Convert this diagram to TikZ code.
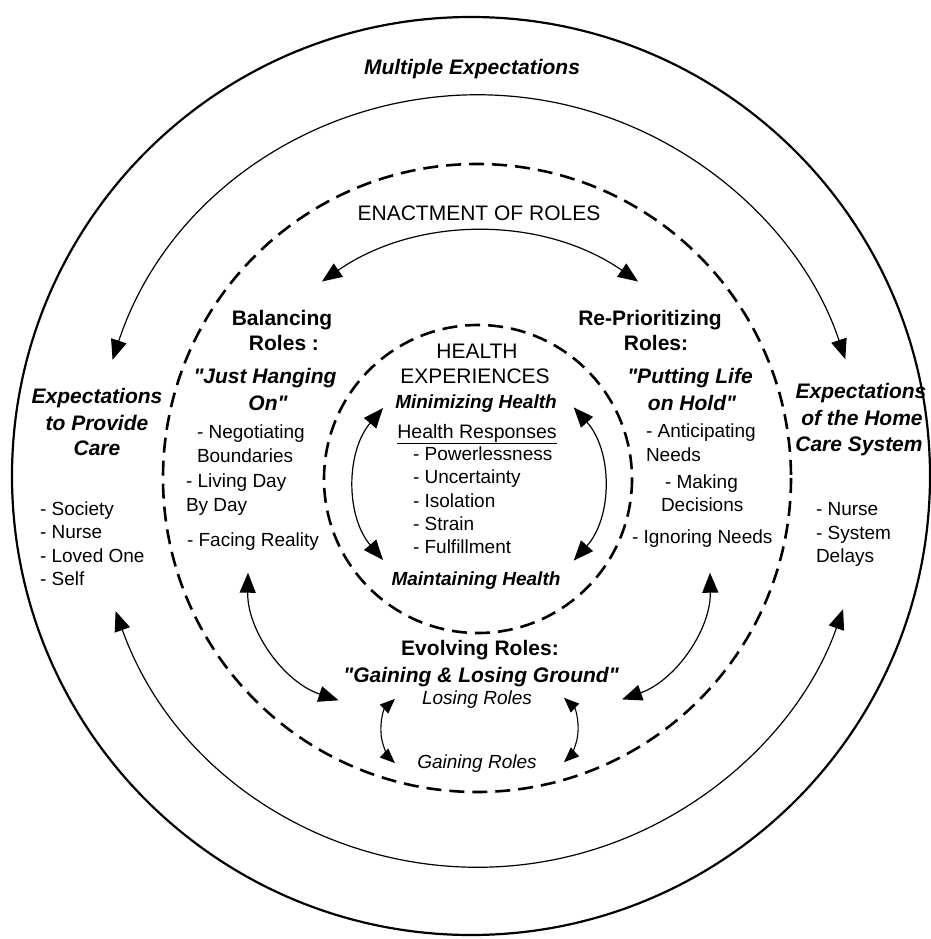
\documentclass[tikz,border=0pt]{standalone}
\usepackage{fontspec}
\setmainfont{Liberation Sans}[Ligatures=ResetAll]
\usetikzlibrary{arrows.meta}
\newcommand{\sq}{\XeTeXglyph\XeTeXglyphindex "quotedbl"\relax}
\begin{document}
\begin{tikzpicture}[x=1pt,y=-1pt,
  every node/.style={inner sep=0pt, outer sep=0pt},
  hb/.style={font=\fontsize{21}{25}\selectfont\bfseries, anchor=base},
  hbi/.style={font=\fontsize{21}{25}\selectfont\bfseries\itshape, anchor=base},
  hr/.style={font=\fontsize{21}{25}\selectfont, anchor=base},
  li/.style={font=\fontsize{19}{23}\selectfont, anchor=base west},
  sbi/.style={font=\fontsize{19}{23}\selectfont\bfseries\itshape, anchor=base},
  si/.style={font=\fontsize{19}{23}\selectfont\itshape, anchor=base},
  sr/.style={font=\fontsize{19.5}{23}\selectfont, anchor=base},
  outerring/.style={line width=2.2pt},
  dring/.style={line width=2.6pt, dash pattern=on 15pt off 8pt},
  bigarr/.style={line width=1.2pt, {Triangle[length=20pt,width=16pt]}-{Triangle[length=20pt,width=16pt]}},
  smallarr/.style={line width=1.1pt, {Triangle[length=15pt,width=12pt]}-{Triangle[length=15pt,width=12pt]}}
]
\useasboundingbox (0,0) rectangle (930,939);

% rings
\coordinate (cO) at (471,476);
\draw[outerring] (cO) circle[radius=459];
\coordinate (cE) at (477,478);
\draw[dring] (cE) circle[radius=314];
\coordinate (cH) at (478,479);
\draw[dring] (cH) circle[radius=154];

% large thin arcs between the expectations
\coordinate (cT) at (479,481);
\path (cT) ++(-161.7:386) coordinate (tTL) (cT) ++(-18.4:386) coordinate (tTR);
\path (cT) ++(160.3:386) coordinate (tBL) (cT) ++(19.4:386) coordinate (tBR);
\draw[bigarr] (tTL) arc[start angle=-161.7, end angle=-18.4, radius=386];
\draw[bigarr] (tBL) arc[start angle=160.3, end angle=19.4, radius=386];

% enactment arc
\coordinate (cA) at (480,509);
\path (cA) ++(-124.8:277) coordinate (eL) (cA) ++(-55.2:277) coordinate (eR);
\draw[bigarr] (eL) arc[start angle=-124.8, end angle=-55.2, radius=277];

% health arcs
\coordinate (cHL) at (472,484);
\coordinate (cHR) at (488,484);
\path (cHL) ++(-139.5:117) coordinate (hL1) (cHR) ++(-41.8:115) coordinate (hR1);
\draw[bigarr] (hL1) arc[start angle=-139.5, end angle=-220.5, radius=117];
\draw[bigarr] (hR1) arc[start angle=-41.8, end angle=41.8, radius=115];

% balancing / re-prioritizing to evolving
\coordinate (cBL) at (380,575);
\coordinate (cBR) at (578,575);
\path (cBL) ++(181:132) coordinate (bL1) (cBR) ++(-1:132) coordinate (bR1);
\draw[bigarr] (bL1) arc[start angle=181, end angle=108.3, radius=132];
\draw[bigarr] (bR1) arc[start angle=-1, end angle=70.5, radius=132];

% losing / gaining
\coordinate (cSL) at (425,731);
\coordinate (cSR) at (534,730);
\path (cSL) ++(-133:44) coordinate (sL1) (cSR) ++(-47:44) coordinate (sR1);
\draw[smallarr] (sL1) arc[start angle=-133, end angle=-227, radius=44];
\draw[smallarr] (sR1) arc[start angle=-47, end angle=47, radius=44];

% texts
\node[hbi] (title) at (472,75) {Multiple Expectations};
\node[hr] (enact) at (479,220) {ENACTMENT OF ROLES};

\node[hbi] (epa) at (97,403) {Expectations};
\node[hbi] (epb) at (97,430) {to Provide};
\node[hbi] (epc) at (97,455) {Care};
\node[li] (epd) at (40,515) {- Society};
\node[li] (epe) at (40,538) {- Nurse};
\node[li] (epf) at (40,562) {- Loved One};
\node[li] (epg) at (40,585) {- Self};

\node[hb] (bra) at (282,325) {Balancing};
\node[hb] (brb) at (284,350) {Roles :};
\node[hbi] (brc) at (265,383) {\sq Just Hanging};
\node[hbi] (brd) at (268,410) {On\sq};
\node[li] (bre) at (197,438) {- Negotiating};
\node[li] (brf) at (197,462) {Boundaries};
\node[li] (brg) at (186,487) {- Living Day};
\node[li] (brh) at (186,511) {By Day};
\node[li] (bri) at (187,546) {- Facing Reality};

\node[hb] (rpa) at (650,325) {Re-Prioritizing};
\node[hb] (rpb) at (656,350) {Roles:};
\node[hbi] (rpc) at (690,383) {\sq Putting Life};
\node[hbi] (rpd) at (692,410) {on Hold\sq};
\node[li] (rpe) at (646,437) {- Anticipating};
\node[li] (rpf) at (646,461) {Needs};
\node[li] (rpg) at (665,488) {- Making};
\node[li] (rph) at (661,511) {Decisions};
\node[li] (rpi) at (632,543) {- Ignoring Needs};

\node[hbi] (eha) at (861,398) {Expectations};
\node[hbi] (ehb) at (862,425) {of the Home};
\node[hbi] (ehc) at (859,451) {Care System};
\node[li] (ehd) at (816,515) {- Nurse};
\node[li] (ehe) at (816,539) {- System};
\node[li] (ehf) at (816,562) {Delays};

\node[hr] (hea) at (477,358) {HEALTH};
\node[hr] (heb) at (475,383) {EXPERIENCES};
\node[sbi] (hec) at (476,408) {Minimizing Health};
\node[sr] (hed) at (477,438) {\underline{Health Responses}};
\node[li] (hee) at (413,460) {- Powerlessness};
\node[li] (hef) at (413,483) {- Uncertainty};
\node[li] (heg) at (413,507) {- Isolation};
\node[li] (heh) at (413,530) {- Strain};
\node[li] (hei) at (413,553) {- Fulfillment};
\node[sbi] (hej) at (476,585) {Maintaining Health};

\node[hb] (eva) at (480,655) {Evolving Roles:};
\node[hbi] (evb) at (481,682) {\sq Gaining \& Losing Ground\sq};
\node[si] (evc) at (477,704) {Losing Roles};
\node[si] (evd) at (477,768) {Gaining Roles};
\end{tikzpicture}
\end{document}
